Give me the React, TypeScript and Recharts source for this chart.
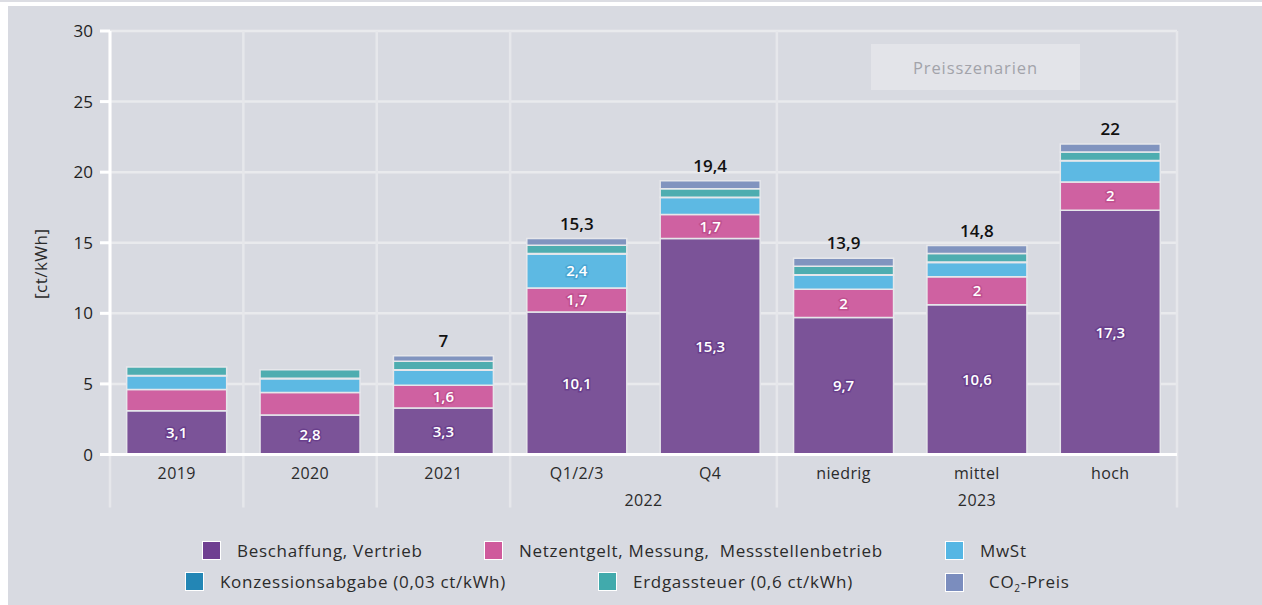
import React from 'react'
import { BarChart, Bar, XAxis, YAxis, CartesianGrid, LabelList, ReferenceLine, Label } from 'recharts'

// values in ct/kWh
const categories = ['2019', '2020', '2021', 'Q1/2/3', 'Q4', 'niedrig', 'mittel', 'hoch']
const beschaffung = [3.1, 2.8, 3.3, 10.1, 15.3, 9.7, 10.6, 17.3]
const netzentgelt = [1.5, 1.6, 1.6, 1.7, 1.7, 2, 2, 2]
const mwst = [0.97, 0.97, 1.07, 2.4, 1.2, 1.0, 1.0, 1.5]
const konzession = [0.03, 0.03, 0.03, 0.03, 0.03, 0.03, 0.03, 0.03]
const erdgassteuer = [0.6, 0.6, 0.6, 0.6, 0.6, 0.6, 0.6, 0.6]
const co2 = [0, 0, 0.4, 0.47, 0.57, 0.57, 0.57, 0.57]
const totals = [6.2, 6, 7, 15.3, 19.4, 13.9, 14.8, 22]

// which segment values are printed inside the bars
const beschaffungLabels = [3.1, 2.8, 3.3, 10.1, 15.3, 9.7, 10.6, 17.3]
const netzLabels = [null, null, 1.6, 1.7, 1.7, 2, 2, 2]
const mwstLabels = [null, null, null, 2.4, null, null, null, null]

const yTicks = [0, 5, 10, 15, 20, 25, 30]

// year groups under the category axis
const groupLabels = ['2022', '2023']
const groupAnchors = ['Q4', 'mittel'] // category the group label hangs on
const groupAtStart = [true, false] // label sits on the left edge of that band

// vertical separators: category + which edge of its band
const separatorCats = ['2019', '2020', '2021', 'Q1/2/3', 'niedrig', 'hoch']
const separatorEdges = ['start', 'start', 'start', 'start', 'start', 'end']

const COLORS = {
  beschaffung: '#7b5398',
  netz: '#cf61a1',
  mwst: '#5db9e3',
  konz: '#2386b5',
  erdgas: '#4eadb0',
  co2: '#8194bf',
}

const legendRows = [
  [
    { name: 'Beschaffung, Vertrieb', color: '#6f3f91', left: 202 },
    { name: 'Netzentgelt, Messung,  Messstellenbetrieb', color: '#cf5a9c', left: 484 },
    { name: 'MwSt', color: '#55b6e4', left: 945 },
  ],
  [
    { name: 'Konzessionsabgabe (0,03 ct/kWh)', color: '#2386b5', left: 185 },
    { name: 'Erdgassteuer (0,6 ct/kWh)', color: '#41aaac', left: 598 },
    { name: 'CO2', color: '#7b8dbe', left: 945 },
  ],
]

const data = categories.map((c, i) => ({
  name: c,
  beschaffung: beschaffung[i],
  netz: netzentgelt[i],
  mwst: mwst[i],
  konz: konzession[i],
  erdgas: erdgassteuer[i],
  co2: co2[i],
  total: totals[i],
  beschLabel: beschaffungLabels[i],
  netzLabel: netzLabels[i],
  mwstLabel: mwstLabels[i],
}))

const FONT = '"Open Sans", Roboto, sans-serif'
const fmt = (v: any) => (v == null ? '' : String(v).replace('.', ','))

const inner = (halo: string) => ({
  fill: '#fff',
  fontSize: 15,
  fontWeight: 600,
  stroke: halo,
  strokeWidth: 3,
  paintOrder: 'stroke' as const,
  fontFamily: FONT,
})

function GroupTick(props: any) {
  const { x, y, payload } = props
  const idx = groupAnchors.indexOf(payload.value)
  if (idx < 0) return null
  const tx = groupAtStart[idx] ? x - (payload.offset || 0) : x
  return (
    <text x={tx} y={y + 19} textAnchor="middle" fontSize={16} letterSpacing={0.4} fill="#2b2b2b" fontFamily={FONT}>
      {groupLabels[idx]}
    </text>
  )
}

function Legend2() {
  return (
    <>
      {legendRows.map((row, r) =>
        row.map(item => (
          <div
            key={item.name}
            style={{
              position: 'absolute',
              left: item.left,
              top: 539 + r * 31,
              display: 'flex',
              alignItems: 'center',
              fontFamily: FONT,
              fontSize: 17,
              letterSpacing: 0.7,
              color: '#2b2b2b',
              whiteSpace: 'pre',
            }}
          >
            <span
              style={{
                width: 19,
                height: 19,
                background: item.color,
                border: '1.5px solid #fff',
                boxSizing: 'border-box',
                marginRight: 16,
                display: 'inline-block',
              }}
            />
            {item.name === 'CO2' ? (
              <span style={{ marginLeft: 9 }}>
                CO<sub style={{ fontSize: 10 }}>2</sub>-Preis
              </span>
            ) : (
              item.name
            )}
          </div>
        ))
      )}
    </>
  )
}

export default function App() {
  return (
    <div style={{ position: 'absolute', left: 0, top: 0, width: 1262, height: 605, background: '#fff', overflow: 'hidden' }}>
      <div style={{ position: 'absolute', left: 0, top: 0, width: 1262, height: 2, background: '#dcdde3' }} />
      <div style={{ position: 'absolute', left: 8, top: 6, width: 1254, height: 599, background: '#d8dae1' }} />
      <div
        style={{
          position: 'absolute',
          left: 871,
          top: 44,
          width: 209,
          height: 46,
          background: '#e3e4e9',
          color: '#a2a3aa',
          fontFamily: FONT,
          fontSize: 16.5,
          letterSpacing: 0.9,
          display: 'flex',
          alignItems: 'center',
          justifyContent: 'center',
        }}
      >
        Preisszenarien
      </div>
      <div style={{ position: 'absolute', left: 0, top: 0 }}>
        <BarChart
          width={1262}
          height={530}
          data={data}
          margin={{ top: 31, right: 85, bottom: 0, left: 50 }}
          barCategoryGap="12.5%"
        >
          <CartesianGrid vertical={false} stroke="#e9eaed" strokeWidth={2.5} />
          {separatorCats.map((c, i) => (
            <ReferenceLine
              key={c + separatorEdges[i]}
              segment={[{ x: c, y: -3.75 }, { x: c, y: 30 }]}
              position={separatorEdges[i] as any}
              stroke="#e6e7eb"
              strokeWidth={2.5}
              ifOverflow="visible"
            />
          ))}
          <XAxis
            dataKey="name"
            axisLine={{ stroke: '#fff', strokeWidth: 3 }}
            tickLine={false}
            tickSize={0}
            tickMargin={13}
            height={30}
            interval={0}
            tick={{ fontSize: 16, fill: '#2b2b2b', fontFamily: FONT, letterSpacing: 0.4 }}
          />
          <XAxis
            xAxisId="grp"
            dataKey="name"
            axisLine={false}
            tickLine={false}
            tickSize={0}
            height={45.5}
            interval={0}
            tick={<GroupTick />}
          />
          <YAxis
            domain={[0, 30]}
            ticks={yTicks}
            width={60}
            axisLine={{ stroke: '#fff', strokeWidth: 3 }}
            tickLine={{ stroke: '#fff', strokeWidth: 3 }}
            tickSize={10}
            tickMargin={7}
            tick={{ fontSize: 17, fill: '#1f1f1f', fontFamily: FONT }}
          >
            <Label
              content={({ viewBox }: any) => {
                const cx = viewBox.x - 10
                const cy = viewBox.y + viewBox.height / 2 + 21
                return (
                  <text
                    x={cx}
                    y={cy}
                    transform={`rotate(-90 ${cx} ${cy})`}
                    textAnchor="middle"
                    dominantBaseline="central"
                    fontSize={17}
                    letterSpacing={0.5}
                    fill="#2b2b2b"
                    fontFamily={FONT}
                  >
                    [ct/kWh]
                  </text>
                )
              }}
            />
          </YAxis>
          <Bar dataKey="beschaffung" stackId="a" fill={COLORS.beschaffung} stroke="#e6e7eb" strokeWidth={1.5} isAnimationActive={false}>
            <LabelList dataKey="beschLabel" position="center" formatter={fmt} style={inner('#6a3f8c')} />
          </Bar>
          <Bar dataKey="netz" stackId="a" fill={COLORS.netz} stroke="#e6e7eb" strokeWidth={1.5} isAnimationActive={false}>
            <LabelList dataKey="netzLabel" position="center" formatter={fmt} style={inner('#c0508f')} />
          </Bar>
          <Bar dataKey="mwst" stackId="a" fill={COLORS.mwst} stroke="#e6e7eb" strokeWidth={1.5} isAnimationActive={false}>
            <LabelList dataKey="mwstLabel" position="center" formatter={fmt} style={inner('#4aa6d3')} />
          </Bar>
          <Bar dataKey="konz" stackId="a" fill={COLORS.konz} stroke="#e6e7eb" strokeWidth={1.5} isAnimationActive={false} />
          <Bar dataKey="erdgas" stackId="a" fill={COLORS.erdgas} stroke="#e6e7eb" strokeWidth={1.5} isAnimationActive={false} />
          <Bar dataKey="co2" stackId="a" fill={COLORS.co2} stroke="#e6e7eb" strokeWidth={1.5} isAnimationActive={false}>
            <LabelList
              dataKey="total"
              position="top"
              offset={9}
              formatter={fmt}
              style={{ fill: '#111', fontSize: 17, fontWeight: 600, fontFamily: FONT }}
            />
          </Bar>
        </BarChart>
      </div>
      <Legend2 />
    </div>
  )
}
